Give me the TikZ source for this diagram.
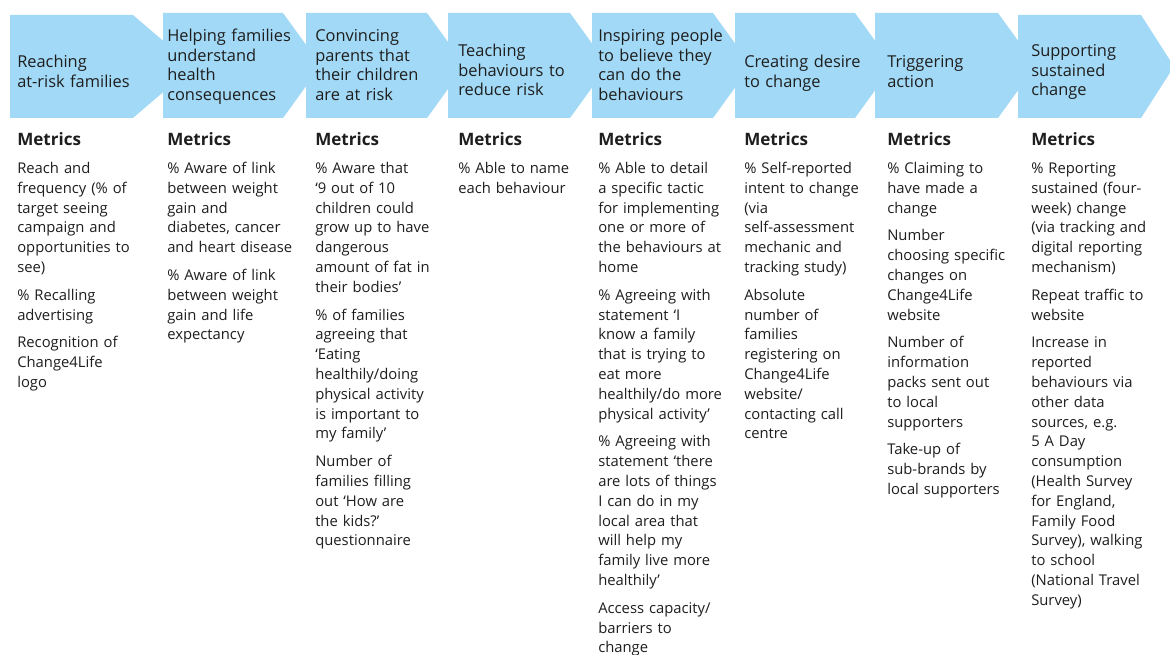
\documentclass[tikz,border=0pt]{standalone}
\usepackage{fontspec}
\setmainfont{Open Sans}
\definecolor{chev}{RGB}{162,217,246}
\definecolor{ink}{RGB}{30,30,30}
\begin{document}
\begin{tikzpicture}[x=0.75pt,y=-0.75pt,
  chevron/.style={fill=chev,draw=none},
  head/.style={anchor=base west,inner sep=0pt,text width=130pt,align=left,text=ink,font=\fontsize{12.3pt}{14.6pt}\selectfont},
  metr/.style={anchor=base west,inner sep=0pt,text width=130pt,align=left,text=ink,font=\bfseries\fontsize{12.8pt}{14.8pt}\selectfont},
  body/.style={anchor=base west,inner sep=0pt,text width=135pt,align=left,text=ink,font=\fontsize{11.1pt}{14.85pt}\selectfont}]
\useasboundingbox (0,0) rectangle (1170,655);
\clip (0,0) rectangle (1170,655);
\fill[white] (0,0) rectangle (1170,655);
% chevrons, drawn left to right so each covers the previous tip
\fill[chevron] (10,15) -- (133,15) -- (193,66.5) -- (133,118) -- (10,118) -- cycle;
\fill[chevron] (163,13) -- (283,13) -- (321,65.5) -- (283,118) -- (163,118) -- cycle;
\fill[chevron] (306,13) -- (427,13) -- (465,65.5) -- (427,118) -- (306,118) -- cycle;
\fill[chevron] (448,13) -- (570,13) -- (608,65.5) -- (570,118) -- (448,118) -- cycle;
\fill[chevron] (592,13) -- (713,13) -- (751,65.5) -- (713,118) -- (592,118) -- cycle;
\fill[chevron] (735,13) -- (855,13) -- (893,65.5) -- (855,118) -- (735,118) -- cycle;
\fill[chevron] (875,13) -- (998,13) -- (1036,65.5) -- (998,118) -- (875,118) -- cycle;
\fill[chevron] (1018,15) -- (1141,15) -- (1174,66.5) -- (1141,118) -- (1018,118) -- cycle;
% header texts
\node[head] (h1) at (17,68) {Reaching\\at-risk families};
\node[head] (h2) at (167,42) {Helping families\\understand\\health\\consequences};
\node[head] (h3) at (315,42) {Convincing\\parents that\\their children\\are at risk};
\node[head] (h4) at (458,57) {Teaching\\behaviours to\\reduce risk};
\node[head] (h5) at (598,42) {Inspiring people\\to believe they\\can do the\\behaviours};
\node[head] (h6) at (744,68) {Creating desire\\to change};
\node[head] (h7) at (887,68) {Triggering\\action};
\node[head] (h8) at (1031,57) {Supporting\\sustained\\change};
% metrics headings
\node[metr] (m1) at (17,146) {Metrics};
\node[metr] (m2) at (167,146) {Metrics};
\node[metr] (m3) at (315,146) {Metrics};
\node[metr] (m4) at (458,146) {Metrics};
\node[metr] (m5) at (598,146) {Metrics};
\node[metr] (m6) at (744,146) {Metrics};
\node[metr] (m7) at (887,146) {Metrics};
\node[metr] (m8) at (1031,146) {Metrics};
% bodies
\node[body] (b1) at (17,173.5) {Reach and\\frequency (\% of\\target seeing\\campaign and\\opportunities to\\see)\\[6pt]
\% Recalling\\advertising\\[6pt]
Recognition of\\Change4Life\\logo};
\node[body] (b2) at (167,173.5) {\% Aware of link\\between weight\\gain and\\diabetes, cancer\\and heart disease\\[6pt]
\% Aware of link\\between weight\\gain and life\\expectancy};
\node[body] (b3) at (315,173.5) {\% Aware that\\‘9 out of 10\\children could\\grow up to have\\dangerous\\amount of fat in\\their bodies’\\[6pt]
\% of families\\agreeing that\\‘Eating\\healthily/doing\\physical activity\\is important to\\my family’\\[6pt]
Number of\\families filling\\out ‘How are\\the kids?’\\questionnaire};
\node[body] (b4) at (458,173.5) {\% Able to name\\each behaviour};
\node[body] (b5) at (598,173.5) {\% Able to detail\\a specific tactic\\for implementing\\one or more of\\the behaviours at\\home\\[6pt]
\% Agreeing with\\statement ‘I\\know a family\\that is trying to\\eat more\\healthily/do more\\physical activity’\\[6pt]
\% Agreeing with\\statement ‘there\\are lots of things\\I can do in my\\local area that\\will help my\\family live more\\healthily’\\[6pt]
Access capacity/\\barriers to\\change};
\node[body] (b6) at (744,173.5) {\% Self-reported\\intent to change\\(via\\self-assessment\\mechanic and\\tracking study)\\[6pt]
Absolute\\number of\\families\\registering on\\Change4Life\\website/\\contacting call\\centre};
\node[body] (b7) at (887,173.5) {\% Claiming to\\have made a\\change\\[6pt]
Number\\choosing specific\\changes on\\Change4Life\\website\\[6pt]
Number of\\information\\packs sent out\\to local\\supporters\\[6pt]
Take-up of\\sub-brands by\\local supporters};
\node[body] (b8) at (1031,173.5) {\% Reporting\\sustained (four-\\week) change\\(via tracking and\\digital reporting\\mechanism)\\[6pt]
Repeat traffic to\\website\\[6pt]
Increase in\\reported\\behaviours via\\other data\\sources, e.g.\\5 A Day\\consumption\\(Health Survey\\for England,\\Family Food\\Survey), walking\\to school\\(National Travel\\Survey)};
\end{tikzpicture}
\end{document}
